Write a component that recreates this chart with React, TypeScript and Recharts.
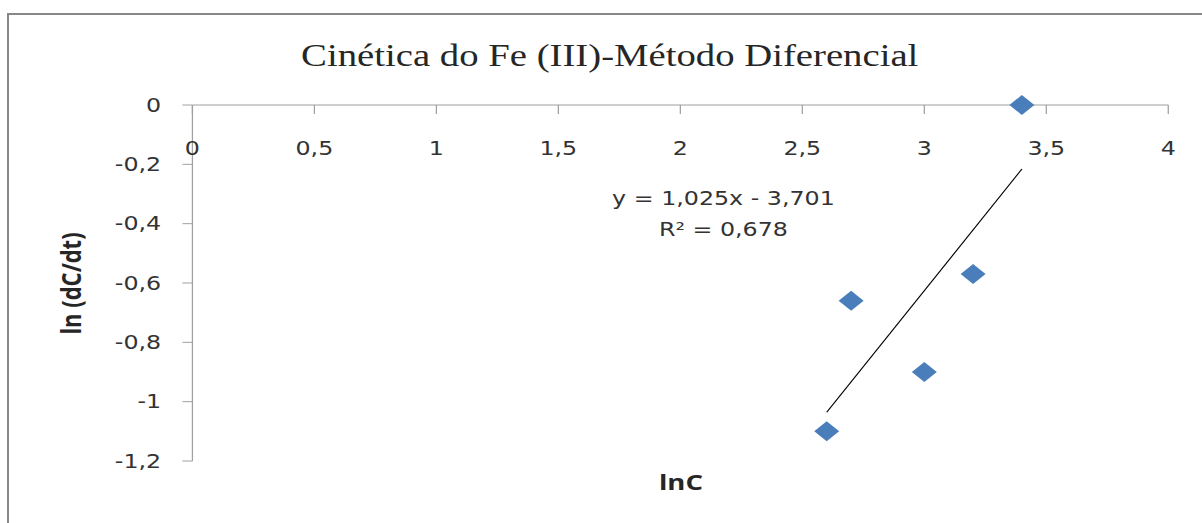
import React from 'react'
import { ScatterChart, Scatter, XAxis, YAxis } from 'recharts'

// values
const lnC = [2.6, 2.7, 3.0, 3.2, 3.4]
const lnRate = [-1.1, -0.66, -0.9, -0.57, 0]

const xTicks = [0, 0.5, 1, 1.5, 2, 2.5, 3, 3.5, 4]
const yTicks = [-1.2, -1, -0.8, -0.6, -0.4, -0.2, 0]

// linear trendline shown in the chart
const slope = 1.025
const intercept = -3.701
const trendRange = [2.6, 3.4]

const points = lnC.map((x, i) => ({ x, y: lnRate[i] }))
const trend = trendRange.map(x => ({ x, y: slope * x + intercept }))

const W = 962
const H = 523
const SX = 1202 / W

const comma = (v: number) => String(v).replace('.', ',')

const tickFont = { fontFamily: 'DejaVu Sans', fontSize: 19, fill: '#333333' }

const Diamond = (props: any) => {
  const { cx, cy } = props
  if (cx == null || cy == null) return <g />
  const r = 10
  return (
    <polygon
      points={`${cx},${cy - r} ${cx + r},${cy} ${cx},${cy + r} ${cx - r},${cy}`}
      fill="#4A7EBB"
    />
  )
}

export default function App() {
  return (
    <div
      style={{
        position: 'absolute',
        left: 0,
        top: 0,
        width: 1202,
        height: 523,
        overflow: 'hidden',
        background: '#fff',
      }}
    >
      <div
        style={{
          position: 'absolute',
          left: 7,
          top: 13,
          width: 1400,
          height: 800,
          border: '2px solid #878787',
        }}
      />
      <div
        style={{
          position: 'absolute',
          left: 0,
          top: 0,
          width: W,
          height: H,
          transform: `scaleX(${SX})`,
          transformOrigin: '0 0',
        }}
      >
        <ScatterChart width={W} height={H} margin={{ top: 105, right: 27, bottom: 62, left: 0 }}>
          <XAxis
            type="number"
            dataKey="x"
            domain={[0, 4]}
            ticks={xTicks}
            orientation="top"
            mirror
            tickFormatter={comma}
            tick={tickFont}
            axisLine={{ stroke: '#A0A0A0' }}
            tickLine={{ stroke: '#A0A0A0' }}
            tickSize={9}
            tickMargin={28}
            interval={0}
          />
          <YAxis
            type="number"
            dataKey="y"
            domain={[-1.2, 0]}
            ticks={yTicks}
            width={154}
            tickFormatter={comma}
            tick={tickFont}
            axisLine={{ stroke: '#A0A0A0' }}
            tickLine={{ stroke: '#A0A0A0' }}
            tickSize={8}
            tickMargin={17}
            interval={0}
          />
          <Scatter
            data={trend}
            line={{ stroke: '#000000', strokeWidth: 1 }}
            shape={() => <g />}
            isAnimationActive={false}
          />
          <Scatter data={points} shape={Diamond} isAnimationActive={false} />
        </ScatterChart>
        <svg
          width={W}
          height={H}
          style={{ position: 'absolute', left: 0, top: 0, pointerEvents: 'none' }}
        >
          <text
            x={488}
            y={66}
            textAnchor="middle"
            fontFamily="Liberation Serif"
            fontSize={31}
            fill="#262626"
          >
            Cinética do Fe (III)-Método Diferencial
          </text>
          <text x={579} y={205} textAnchor="middle" {...tickFont}>
            y = 1,025x - 3,701
          </text>
          <text x={579} y={236} textAnchor="middle" {...tickFont}>
            R² = 0,678
          </text>
          <text
            x={545}
            y={490}
            textAnchor="middle"
            fontFamily="Open Sans"
            fontWeight="bold"
            fontSize={22}
            fill="#262626"
          >
            lnC
          </text>
          <text
            transform="translate(64.6, 283.5) rotate(-90)"
            textAnchor="middle"
            fontFamily="Open Sans"
            fontWeight="bold"
            fontSize={22}
            fill="#262626"
          >
            ln (dC/dt)
          </text>
        </svg>
      </div>
    </div>
  )
}
